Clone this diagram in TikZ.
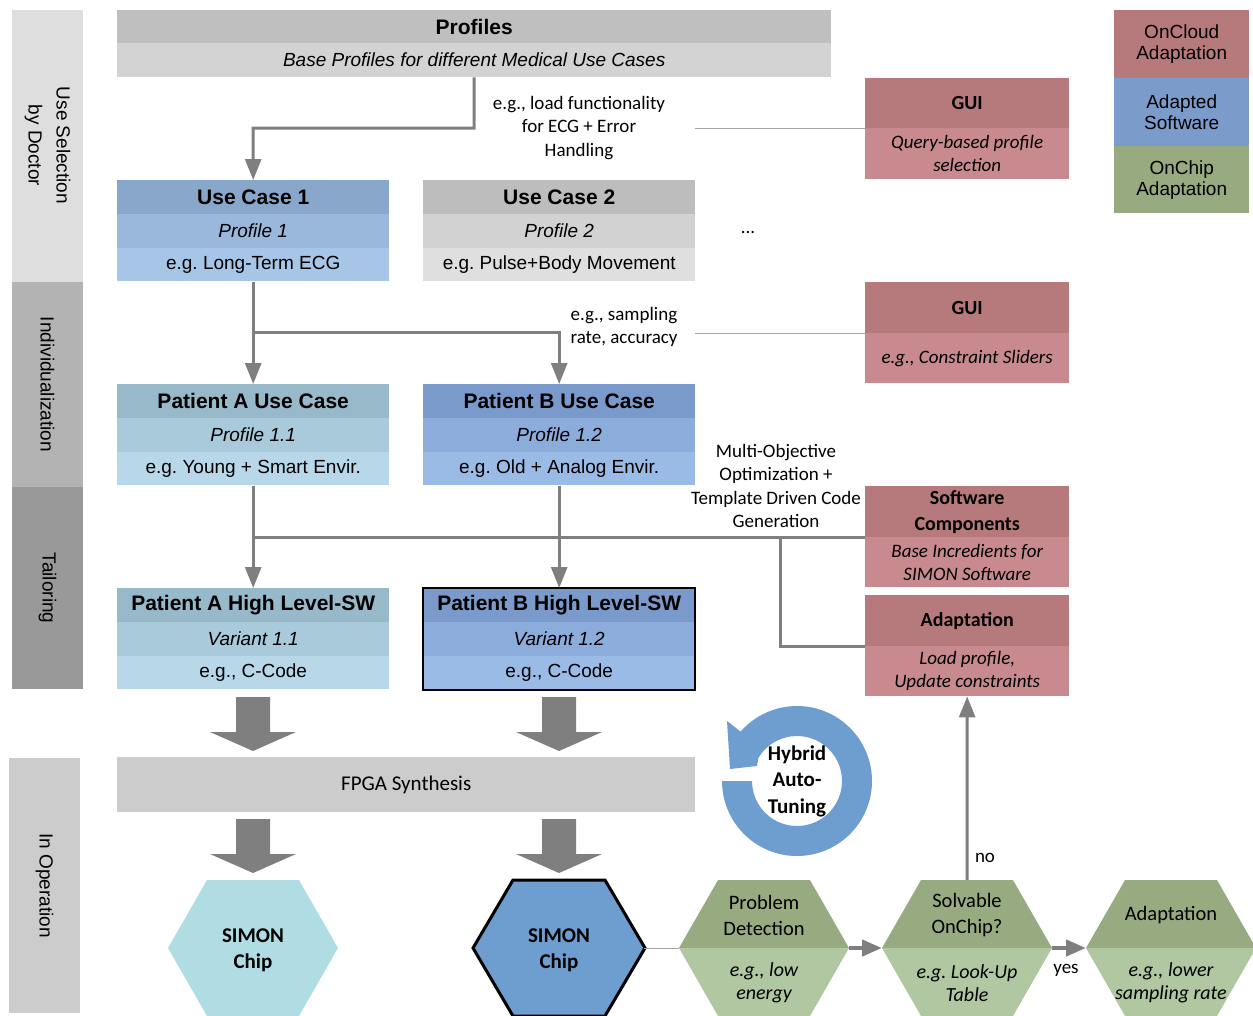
\documentclass[tikz,border=0pt]{standalone}
\usepackage{fontspec}
\setmainfont{Liberation Sans}
\newfontfamily\carl{Carlito}
\usetikzlibrary{arrows.meta,calc}
\definecolor{sideA}{HTML}{DEDEDE}
\definecolor{sideB}{HTML}{B3B3B3}
\definecolor{sideC}{HTML}{999999}
\definecolor{sideD}{HTML}{CCCCCC}
\definecolor{profA}{HTML}{BFBFBF}
\definecolor{profB}{HTML}{D3D3D3}
\definecolor{ucA}{HTML}{88A7CA}
\definecolor{ucB}{HTML}{9AB8DC}
\definecolor{ucC}{HTML}{A7C6E7}
\definecolor{ugA}{HTML}{BDBDBD}
\definecolor{ugB}{HTML}{D2D2D2}
\definecolor{ugC}{HTML}{DFDFDF}
\definecolor{paA}{HTML}{97B9C9}
\definecolor{paB}{HTML}{A8CADB}
\definecolor{paC}{HTML}{B8D8EA}
\definecolor{pbA}{HTML}{7A9ACB}
\definecolor{pbB}{HTML}{8CADDB}
\definecolor{pbC}{HTML}{9BBBE7}
\definecolor{redA}{HTML}{B77A7C}
\definecolor{redB}{HTML}{C88A8E}
\definecolor{legBlue}{HTML}{7B9BCB}
\definecolor{grnA}{HTML}{97AA80}
\definecolor{grnB}{HTML}{B1C7A1}
\definecolor{chipA}{HTML}{B0DDE4}
\definecolor{chipB}{HTML}{6E9DCF}
\definecolor{arrgray}{HTML}{7F7F7F}
\definecolor{thingray}{HTML}{A6A6A6}
\newcommand\myfb{\fontsize{19}{22}\selectfont}
\newcommand\myleg{\fontsize{19}{21}\selectfont}
\newcommand\myside{\fontsize{19}{28}\selectfont}
\newcommand\myfi{\fontsize{19}{22}\selectfont\itshape}
\newcommand\myft{\fontsize{21}{24}\selectfont\bfseries}
\newcommand\mycf{\carl\fontsize{19}{23.4}\selectfont}
\newcommand\mycb{\carl\fontsize{20}{26}\selectfont\bfseries}
\newcommand\myci{\carl\fontsize{19}{23.4}\selectfont\itshape}
\newcommand\myhx{\carl\fontsize{20.5}{26}\selectfont}
\newcommand\myhi{\carl\fontsize{20}{23.5}\selectfont\itshape}
\newcommand\mychip{\carl\fontsize{21}{26}\selectfont\bfseries}
\newcommand\myhyb{\carl\fontsize{21}{26.5}\selectfont\bfseries}
\tikzset{
  band/.style={rectangle, inner sep=0pt, anchor=north west, align=center, minimum width=272pt, minimum height=33.7pt},
  redbox/.style={rectangle, inner sep=0pt, anchor=north west, align=center, minimum width=204pt},
  legbox/.style={rectangle, inner sep=0pt, anchor=north west, align=center, minimum width=135pt, font=\myleg},
  sideband/.style={rectangle, inner sep=0pt, rotate=-90, align=center, minimum height=71pt},
  conn/.style={draw=arrgray, line width=3pt, -{Triangle[length=21pt,width=16pt]}},
  plainline/.style={draw=arrgray, line width=3pt},
  thinline/.style={draw=thingray, line width=1pt},
  hexarr/.style={draw=arrgray, line width=4.5pt, -{Triangle[length=20pt,width=16pt]}},
  blk/.style={fill=arrgray},
  annot/.style={align=center, inner sep=0pt},
}
\newcommand\tribox[9]{%
  \node[band,fill=#4,font=\myft] (#1a) at (#2,#3) {#7};
  \node[band,fill=#5,font=\myfi] (#1b) at (#2,#3+33.7) {#8};
  \node[band,fill=#6,font=\myfb] (#1c) at (#2,#3+67.4) {#9};}
\newcommand\hexa[5]{%
  \coordinate (#1) at (#2,#3);
  \coordinate (#1-w) at (#2-85,#3);
  \coordinate (#1-e) at (#2+85,#3);
  \coordinate (#1-n) at (#2,#3-68);
  \fill[#4] (#2-85,#3) -- (#2-46,#3-68) -- (#2+46,#3-68) -- (#2+85,#3) -- cycle;
  \fill[#5] (#2-85,#3) -- (#2-46,#3+68) -- (#2+46,#3+68) -- (#2+85,#3) -- cycle;}
\newcommand\blkarrow[1]{%
  \fill[blk, shift={(#1)}] (-17,0) -- (17,0) -- (17,35) -- (43,35) -- (0,54) -- (-43,35) -- (-17,35) -- cycle;}
\begin{document}
\frenchspacing
\begin{tikzpicture}[x=1pt,y=-1pt]
\useasboundingbox (0,0) rectangle (1253,1015);
% side bands
\node[sideband, fill=sideA, minimum width=272pt, font=\myside] (sd1) at (47.5,145.5) {Use Selection\\by Doctor};
\node[sideband, fill=sideB, minimum width=206pt, font=\myfb] (sd2) at (47.5,384.5) {Individualization};
\node[sideband, fill=sideC, minimum width=202pt, font=\myfb] (sd3) at (47.5,588) {Tailoring};
\node[sideband, fill=sideD, minimum width=255pt, font=\myfb] (sd4) at (44.5,885.5) {In Operation};
% profiles
\node[band, fill=profA, minimum width=714pt, minimum height=33pt, font=\myft] (profa) at (117,10) {Profiles};
\node[band, fill=profB, minimum width=714pt, minimum height=34pt, font=\myfi] (profb) at (117,43) {Base Profiles for different Medical Use Cases};
% use cases
\tribox{ucx}{117}{180}{ucA}{ucB}{ucC}{Use Case 1}{Profile 1}{e.g. Long-Term ECG}
\tribox{ucy}{423}{180}{ugA}{ugB}{ugC}{Use Case 2}{Profile 2}{e.g. Pulse+Body Movement}
\node[annot, font=\mycf] (dots) at (748,232) {...};
\tribox{pa}{117}{384}{paA}{paB}{paC}{Patient A Use Case}{Profile 1.1}{e.g. Young + Smart Envir.}
\tribox{pb}{423}{384}{pbA}{pbB}{pbC}{Patient B Use Case}{Profile 1.2}{e.g. Old + Analog Envir.}
\tribox{ha}{117}{588}{paA}{paB}{paC}{Patient A High Level-SW}{Variant 1.1}{e.g., C-Code}
\tribox{hb}{423}{588}{pbA}{pbB}{pbC}{Patient B High Level-SW}{Variant 1.2}{e.g., C-Code}
\draw[black, line width=2pt] (hba.north west) rectangle (hbc.south east);
% red boxes
\node[redbox, fill=redA, minimum height=50pt, font=\mycb] (gua) at (865,78) {GUI};
\node[redbox, fill=redB, minimum height=51pt, font=\myci] (gub) at (865,128) {Query-based profile\\selection};
\node[redbox, fill=redA, minimum height=51pt, font=\mycb] (gva) at (865,282) {GUI};
\node[redbox, fill=redB, minimum height=50pt, font=\myci] (gvb) at (865,333) {e.g., Constraint Sliders};
\node[redbox, fill=redA, minimum height=51pt, font=\mycb] (swa) at (865,486) {Software\\Components};
\node[redbox, fill=redB, minimum height=50pt, font=\myci] (swb) at (865,537) {Base Incredients for\\SIMON Software};
\node[redbox, fill=redA, minimum height=51pt, font=\mycb] (ada) at (865,595) {Adaptation};
\node[redbox, fill=redB, minimum height=50pt, font=\myci] (adb) at (865,646) {Load profile,\\Update constraints};
% legend
\node[legbox, fill=redA, minimum height=68pt] (lg1) at (1114,10) {OnCloud\\Adaptation};
\node[legbox, fill=legBlue, minimum height=68pt] (lg2) at (1114,78) {Adapted\\Software};
\node[legbox, fill=grnA, minimum height=67pt] (lg3) at (1114,146) {OnChip\\Adaptation};
% annotations
\node[annot, font=\mycf] (an1) at (579,128) {e.g., load functionality\\for ECG + Error\\Handling};
\node[annot, font=\mycf] (an2) at (624,327) {e.g., sampling\\rate, accuracy};
\node[annot, font=\mycf] (an3) at (776,486) {Multi-Objective\\Optimization +\\Template Driven Code\\Generation};
% connectors
\coordinate (j1) at (474,128);
\draw[conn] (profb.south) -- (j1) -| (ucxa.north);
\coordinate (t1) at (695,128);
\draw[thinline] (t1) -- (gub.north west);
\draw[conn] (ucxc.south) -- (paa.north);
\coordinate (j2) at (253,332);
\draw[conn] (j2) -| (pba.north);
\coordinate (t2) at (695,333);
\draw[thinline] (t2) -- (gvb.north west);
\draw[conn] (pac.south) -- (haa.north);
\draw[conn] (pbc.south) -- (hba.north);
\coordinate (j3) at (253,537);
\draw[plainline] (j3) -- (swb.north west);
\coordinate (j4) at (780,537);
\draw[plainline] (j4) |- (adb.north west);
% block arrows and FPGA
\node[rectangle, inner sep=0pt, anchor=north west, fill=sideD, minimum width=578pt, minimum height=55pt, font=\carl\fontsize{21}{24}\selectfont] (fpga) at (117,757) {FPGA Synthesis};
\coordinate (ba1) at (253,697);
\coordinate (ba2) at (559,697);
\coordinate (ba3) at (253,819);
\coordinate (ba4) at (559,819);
\blkarrow{ba1}
\blkarrow{ba2}
\blkarrow{ba3}
\blkarrow{ba4}
% hexagons
\hexa{cha}{253}{948}{chipA}{chipA}
\hexa{chb}{559}{948}{chipB}{chipB}
\draw[black, line width=3pt] (473,948) -- (513,880) -- (605,880) -- (645,948) -- (605,1016) -- (513,1016) -- cycle;
\node[annot, font=\mychip] (chat) at (253,950) {SIMON\\Chip};
\node[annot, font=\mychip] (chbt) at (559,950) {SIMON\\Chip};
\hexa{pd}{764}{948}{grnA}{grnB}
\hexa{sv}{967}{948}{grnA}{grnB}
\hexa{ah}{1171}{948}{grnA}{grnB}
\node[annot, font=\myhx] (pdt) at (764,915) {Problem\\Detection};
\node[annot, font=\myhi] (pdb) at (764,983) {e.g., low\\energy};
\node[annot, font=\myhx] (svt) at (967,915) {Solvable\\OnChip?};
\node[annot, font=\myhi] (svb) at (967,983) {e.g. Look-Up\\Table};
\node[annot, font=\myhx] (aht) at (1171,915) {Adaptation};
\node[annot, font=\myhi] (ahb) at (1171,983) {e.g., lower\\sampling rate};
\draw[thinline] (chb-e) -- (pd-w);
\draw[hexarr] (pd-e) -- (sv-w);
\draw[hexarr] (sv-e) -- (ah-w);
\draw[conn] (sv-n) -- (adb.south);
\node[annot, font=\mycf] (nolab) at (985,858) {no};
\node[annot, font=\mycf] (yeslab) at (1066,970) {yes};
% hybrid auto-tuning cycle
\coordinate (hub) at (797,781);
\begin{scope}[shift={(hub)}, x=1pt, y=1pt]
\fill[chipB] (180:45) -- (180:75) arc[start angle=180, end angle=498.8, radius=75] -- (-70,60) -- (-67,12) -- (-40,15) -- (149.2:45) arc[start angle=149.2, end angle=-180, radius=45] -- cycle;
\end{scope}
\node[annot, font=\myhyb] (hyb) at (hub) {Hybrid\\Auto-\\Tuning};
\end{tikzpicture}
\end{document}
